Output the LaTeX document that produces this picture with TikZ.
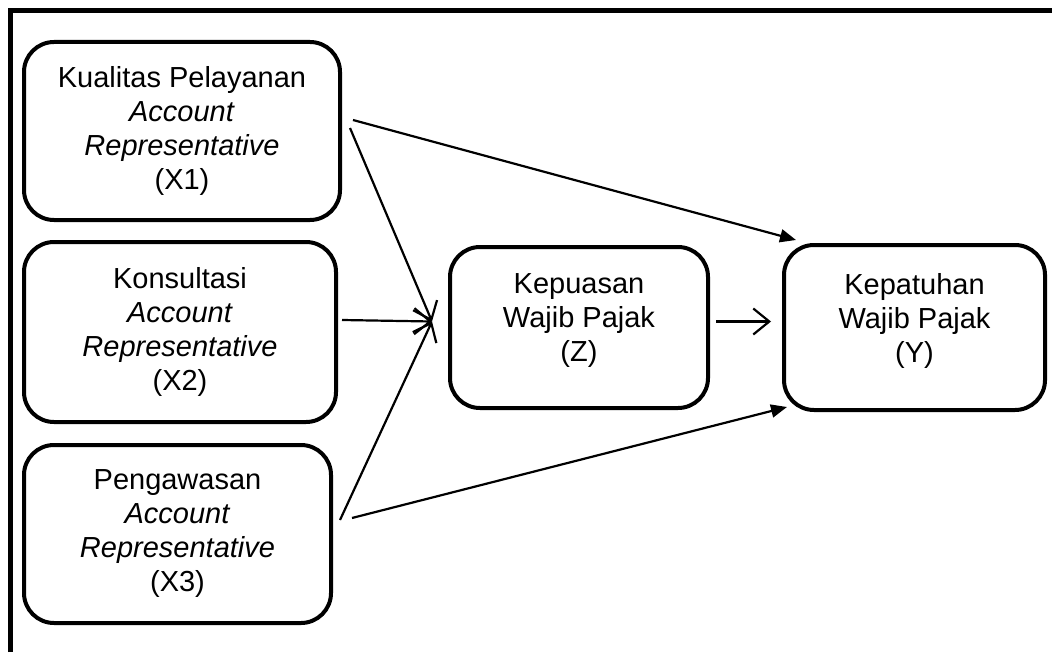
\documentclass[tikz,border=0pt]{standalone}
\usepackage{fontspec}
\setmainfont{Liberation Sans}
\usetikzlibrary{arrows.meta}

\tikzset{
    varbox/.style={draw=black, line width=2pt, rectangle, rounded corners=15pt, align=center,
        font=\fontsize{14.5}{17}\selectfont, inner sep=0pt},
    openarrow/.style={draw=black, line width=1.1pt, -{Straight Barb[length=8pt,width=13pt]}},
    fullarrow/.style={draw=black, line width=1.1pt, -{Triangle[length=8pt,width=6.5pt]}}
}

\begin{document}
\begin{tikzpicture}[x=0.5pt, y=-0.5pt]
        \useasboundingbox (0,0) rectangle (1052,652);
        \draw[line width=2.5pt] (10.5,652) -- (10.5,11) -- (1052,11);

        \node[varbox, minimum width=158pt, minimum height=89pt] (x1) at (182,131) {Kualitas Pelayanan\\\textit{Account}\\\textit{Representative}\\(X1)};
        \node[varbox, minimum width=156pt, minimum height=90pt] (x2) at (180,332) {Konsultasi\\\textit{Account}\\\textit{Representative}\\(X2)};
        \node[varbox, minimum width=153.5pt, minimum height=89pt] (x3) at (177.5,534) {Pengawasan\\\textit{Account}\\\textit{Representative}\\(X3)};
        \node[varbox, minimum width=129pt, minimum height=80.5pt, text depth=10pt] (z) at (579,327.5) {Kepuasan\\Wajib Pajak\\(Z)};
        \node[varbox, minimum width=130.5pt, minimum height=82.5pt, text depth=10pt] (y) at (914.5,327.5) {Kepatuhan\\Wajib Pajak\\(Y)};

        \coordinate (zin) at ([xshift=-8pt, yshift=3pt]z.west);

        \draw[openarrow] ([xshift=4pt, yshift=1.5pt]x1.east) -- (zin);
        \draw[openarrow] ([xshift=2pt, yshift=6pt]x2.east) -- (zin);
        \draw[openarrow] ([xshift=3.5pt, yshift=7pt]x3.east) -- (zin);
        \draw[openarrow] ([xshift=3pt, yshift=3pt]z.east) -- ([xshift=-5.5pt, yshift=3pt]y.west);
        \draw[fullarrow] ([xshift=5.5pt, yshift=5.5pt]x1.east) -- ([xshift=7pt, yshift=1.5pt]y.north west);
        \draw[fullarrow] ([xshift=9.5pt, yshift=8pt]x3.east) -- ([xshift=2.5pt, yshift=2.5pt]y.south west);
\end{tikzpicture}
\end{document}
